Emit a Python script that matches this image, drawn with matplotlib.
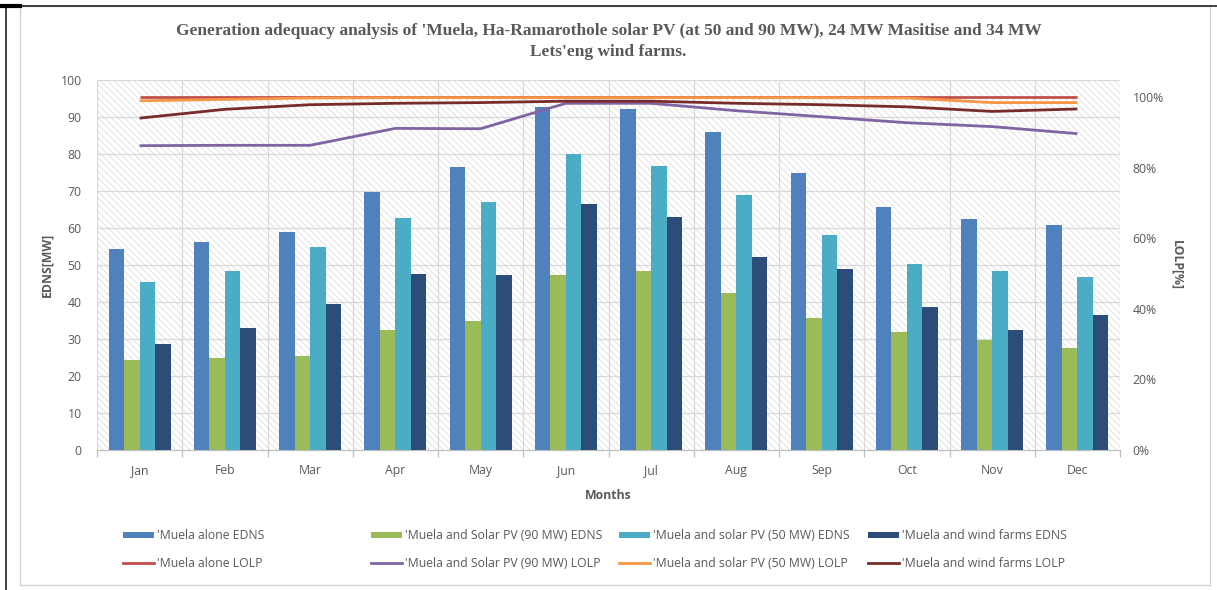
import matplotlib
matplotlib.use("Agg")
import matplotlib.pyplot as plt
from matplotlib.patches import Rectangle, Patch
from matplotlib.lines import Line2D
from matplotlib.ticker import FuncFormatter, FixedLocator
import numpy as np

months = ["Jan", "Feb", "Mar", "Apr", "May", "Jun", "Jul", "Aug", "Sep", "Oct", "Nov", "Dec"]

# Expected demand not supplied, MW
edns_alone = [54.2, 56.3, 59.0, 69.7, 76.4, 92.8, 92.1, 85.9, 74.9, 65.8, 62.5, 60.7]
edns_pv90 = [24.2, 25.0, 25.3, 32.5, 35.0, 47.3, 48.4, 42.5, 35.8, 31.8, 29.6, 27.5]
edns_pv50 = [45.4, 48.4, 54.8, 62.6, 66.9, 79.9, 76.8, 68.9, 58.0, 50.2, 48.4, 46.8]
edns_wind = [28.6, 32.9, 39.5, 47.6, 47.3, 66.6, 63.1, 52.1, 48.8, 38.6, 32.5, 36.5]

# Loss of load probability, %
lolp_alone = [100.0, 100.0, 100.0, 100.0, 100.0, 100.0, 100.0, 100.0, 100.0, 100.0, 100.0, 100.0]
lolp_pv90 = [86.2, 86.3, 86.3, 91.1, 91.0, 98.2, 98.2, 96.1, 94.4, 92.7, 91.6, 89.6]
lolp_pv50 = [98.9, 99.3, 99.7, 99.8, 99.8, 99.8, 99.8, 99.8, 99.8, 99.7, 98.4, 98.4]
lolp_wind = [94.0, 96.5, 97.8, 98.2, 98.4, 98.8, 98.8, 98.2, 97.8, 97.2, 95.9, 96.6]

bar_labels = ["'Muela alone EDNS", "'Muela and Solar PV (90 MW) EDNS",
              "'Muela and solar PV (50 MW) EDNS", "'Muela and wind farms EDNS"]
line_labels = ["'Muela alone LOLP", "'Muela and Solar PV (90 MW) LOLP",
               "'Muela and solar PV (50 MW) LOLP", "'Muela and wind farms LOLP"]

bar_colors = ["#4F81BD", "#9BBB59", "#4BACC6", "#2B4D77"]
line_colors = ["#C0504D", "#8064A2", "#F79646", "#772C2A"]

title = ("Generation adequacy analysis of 'Muela, Ha-Ramarothole solar PV (at 50 and 90 MW), 24 MW Masitise and 34 MW\n"
         "Lets'eng wind farms.")

TXT = "#595959"
GRID = "#d9d9d9"
FONT = "Open Sans"
FS = 8.8

plt.rcParams["hatch.linewidth"] = 0.5

W, H = 1217, 590
fig = plt.figure(figsize=(W / 100, H / 100), dpi=100)
fig.patch.set_facecolor("white")

# sheet frame
fig.add_artist(Line2D([0, 1], [1 - 5.5 / H, 1 - 5.5 / H], color="#222222", lw=1.2))
fig.add_artist(Line2D([5.5 / W, 5.5 / W], [0, 1 - 5.5 / H], color="#222222", lw=1.2))
fig.add_artist(Line2D([0, 20 / W], [1 - 5.5 / H, 1 - 5.5 / H], color="#000000", lw=3))
fig.add_artist(Rectangle((20 / W, 1 - 585 / H), 1190 / W, 579 / H, transform=fig.transFigure,
                         fill=False, edgecolor="#d0d0d0", lw=0.9))

ax = fig.add_axes([97 / W, 1 - 450 / H, 1023 / W, 370 / H])
ax.set_facecolor("white")
ax.add_patch(Rectangle((0, 0), 1, 1, transform=ax.transAxes, facecolor="white",
                       edgecolor="#d6d6d6", lw=0, hatch="\\\\\\\\\\", zorder=0))

x = np.arange(len(months))
bw = 0.182
series = [edns_alone, edns_pv90, edns_pv50, edns_wind]
for k, (vals, col) in enumerate(zip(series, bar_colors)):
    ax.bar(x + (k - 1.5) * bw, vals, width=bw, color=col, zorder=3, linewidth=0)

ax.set_xlim(-0.5, 11.5)
ax.set_ylim(0, 100)
ax.set_yticks(np.arange(0, 101, 10))
for yv in np.arange(10, 101, 10):
    ax.axhline(yv, color=GRID, lw=0.9, zorder=1)
for xb in np.arange(-0.5, 12, 1.0):
    ax.axvline(xb, color=GRID, lw=0.9, zorder=1)

ax.set_xticks(x)
ax.set_xticklabels(months)
ax.xaxis.set_minor_locator(FixedLocator(np.arange(-0.5, 12, 1.0)))
ax.tick_params(axis="x", which="major", length=0, pad=10, labelsize=FS, labelcolor=TXT)
ax.tick_params(axis="x", which="minor", length=5, color="#bfbfbf", width=0.9)
ax.tick_params(axis="y", length=0, pad=11, labelsize=FS, labelcolor=TXT)
for lab in ax.get_xticklabels() + ax.get_yticklabels():
    lab.set_fontfamily(FONT)
for s in ["top", "left", "right"]:
    ax.spines[s].set_visible(False)
ax.spines["bottom"].set_color("#bfbfbf")
ax.spines["bottom"].set_linewidth(0.9)

ax.set_ylabel("EDNS[MW]", fontsize=FS, fontweight="bold", color=TXT, family=FONT, labelpad=5)
ax.set_xlabel("Months", fontsize=FS, fontweight="bold", color=TXT, family=FONT, labelpad=9)

ax2 = ax.twinx()
ax2.patch.set_visible(False)
for vals, col in zip([lolp_alone, lolp_pv90, lolp_pv50, lolp_wind], line_colors):
    ax2.plot(x, vals, color=col, lw=2.0, solid_capstyle="butt")
ax2.set_ylim(0, 104.8)
ax2.set_yticks(np.arange(0, 101, 20))
ax2.yaxis.set_major_formatter(FuncFormatter(lambda v, p: f"{v:.0f}%"))
ax2.tick_params(axis="y", length=0, pad=9, labelsize=FS, labelcolor=TXT)
for lab in ax2.get_yticklabels():
    lab.set_fontfamily(FONT)
for s in ax2.spines.values():
    s.set_visible(False)
ax2.set_ylabel("LOLP[%]", fontsize=FS, fontweight="bold", color=TXT, family=FONT,
               rotation=270, labelpad=14)

fig.text(0.5, 1 - 41.5 / H, title, ha="center", va="center", fontsize=12.5,
         fontweight="bold", color=TXT, family="Liberation Serif", linespacing=1.4)

# legend: four equal-width columns, bar entry above line entry
col_x = [123, 371, 619, 868]
for k in range(4):
    handles = [Patch(facecolor=bar_colors[k], edgecolor="none"),
               Line2D([], [], color=line_colors[k], lw=2.0)]
    fig.legend(handles, [bar_labels[k], line_labels[k]], loc="center left",
               bbox_to_anchor=(col_x[k] / W, 1 - 549.5 / H), frameon=False,
               borderpad=0, borderaxespad=0, handlelength=2.5, handleheight=0.45,
               handletextpad=0.3, labelspacing=1.15,
               prop={"family": FONT, "size": FS}, labelcolor=TXT)

fig.savefig("out.png", dpi=100, facecolor="white")
